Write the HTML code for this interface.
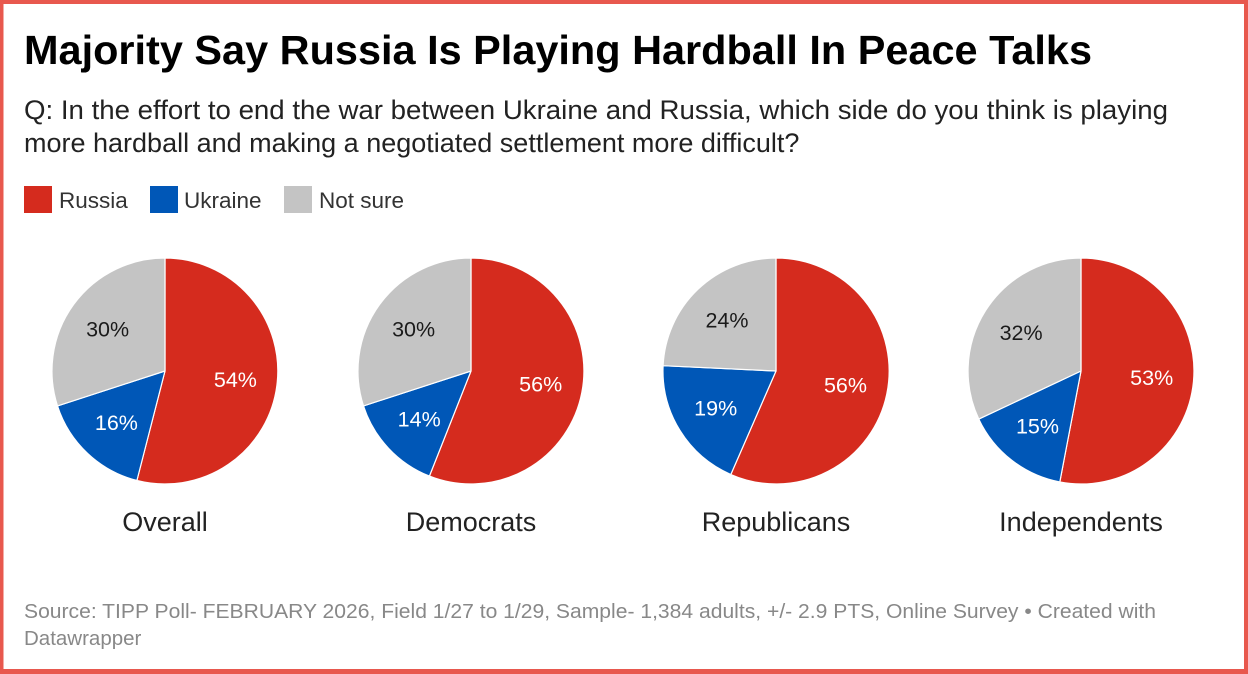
<!DOCTYPE html>
<html>
<head>
<meta charset="utf-8">
<style>
  html, body { margin: 0; padding: 0; background: #fff; }
  svg { display: block; }
  text { font-family: "Liberation Sans", Arial, sans-serif; }
</style>
</head>
<body>
<svg width="1248" height="674" viewBox="0 0 1248 674" xmlns="http://www.w3.org/2000/svg">
  <rect x="0" y="0" width="1248" height="674" fill="#ffffff"/>
  <!-- border -->
  <rect x="0" y="0" width="1248" height="4" fill="#e8584e"/>
  <rect x="0" y="669" width="1248" height="5" fill="#e8584e"/>
  <rect x="0" y="0" width="3.5" height="674" fill="#e8584e"/>
  <rect x="1244" y="0" width="4" height="674" fill="#e8584e"/>

  <!-- title -->
  <text x="24" y="64" font-size="41" font-weight="bold" fill="#000" textLength="1068" lengthAdjust="spacingAndGlyphs">Majority Say Russia Is Playing Hardball In Peace Talks</text>

  <!-- question -->
  <text x="24" y="119" font-size="27" fill="#222" textLength="1144" lengthAdjust="spacingAndGlyphs">Q: In the effort to end the war between Ukraine and Russia, which side do you think is playing</text>
  <text x="24" y="152" font-size="27" fill="#222">more hardball and making a negotiated settlement more difficult?</text>

  <!-- legend -->
  <rect x="24" y="186" width="28" height="27" fill="#d52b1e"/>
  <text x="59" y="208" font-size="22.5" fill="#333">Russia</text>
  <rect x="150" y="186" width="28" height="27" fill="#0057b7"/>
  <text x="184" y="208" font-size="22.5" fill="#333">Ukraine</text>
  <rect x="284" y="186" width="28" height="27" fill="#c4c4c4"/>
  <text x="319" y="208" font-size="22.5" fill="#333">Not sure</text>

  <g stroke="#ffffff" stroke-width="1.2" stroke-linejoin="round">
    <!-- Overall -->
    <path d="M165,371 L165,258 A113,113 0 1 1 136.9,480.5 Z" fill="#d52b1e"/>
    <path d="M165,371 L136.9,480.5 A113,113 0 0 1 57.5,405.9 Z" fill="#0057b7"/>
    <path d="M165,371 L57.5,405.9 A113,113 0 0 1 165,258 Z" fill="#c4c4c4"/>
    <!-- Democrats -->
    <path d="M471,371 L471,258 A113,113 0 1 1 429.4,476.1 Z" fill="#d52b1e"/>
    <path d="M471,371 L429.4,476.1 A113,113 0 0 1 363.5,405.9 Z" fill="#0057b7"/>
    <path d="M471,371 L363.5,405.9 A113,113 0 0 1 471,258 Z" fill="#c4c4c4"/>
    <!-- Republicans -->
    <path d="M776,371 L776,258 A113,113 0 1 1 730.8,474.5 Z" fill="#d52b1e"/>
    <path d="M776,371 L730.8,474.5 A113,113 0 0 1 663.1,365.7 Z" fill="#0057b7"/>
    <path d="M776,371 L663.1,365.7 A113,113 0 0 1 776,258 Z" fill="#c4c4c4"/>
    <!-- Independents -->
    <path d="M1081,371 L1081,258 A113,113 0 1 1 1059.8,482 Z" fill="#d52b1e"/>
    <path d="M1081,371 L1059.8,482 A113,113 0 0 1 978.8,419.1 Z" fill="#0057b7"/>
    <path d="M1081,371 L978.8,419.1 A113,113 0 0 1 1081,258 Z" fill="#c4c4c4"/>
  </g>

  <!-- pie labels -->
  <g font-size="21.5" text-anchor="middle" dominant-baseline="central">
    <text x="235.4" y="380" fill="#fff">54%</text>
    <text x="116.4" y="422.8" fill="#fff">16%</text>
    <text x="107.6" y="329.3" fill="#1a1a1a">30%</text>

    <text x="540.7" y="384.3" fill="#fff">56%</text>
    <text x="419.2" y="419.6" fill="#fff">14%</text>
    <text x="413.6" y="329.3" fill="#1a1a1a">30%</text>

    <text x="845.5" y="385.5" fill="#fff">56%</text>
    <text x="715.7" y="408.4" fill="#fff">19%</text>
    <text x="727" y="320.5" fill="#1a1a1a">24%</text>

    <text x="1151.7" y="378" fill="#fff">53%</text>
    <text x="1037.5" y="426.5" fill="#fff">15%</text>
    <text x="1021.1" y="333" fill="#1a1a1a">32%</text>
  </g>

  <!-- category labels -->
  <g font-size="27" text-anchor="middle" fill="#222">
    <text x="165" y="531">Overall</text>
    <text x="471" y="531">Democrats</text>
    <text x="776" y="531">Republicans</text>
    <text x="1081" y="531">Independents</text>
  </g>

  <!-- footer -->
  <text x="24" y="618" font-size="20.5" fill="#888" textLength="1132" lengthAdjust="spacingAndGlyphs">Source: TIPP Poll- FEBRUARY 2026, Field 1/27 to 1/29, Sample- 1,384 adults, +/- 2.9 PTS, Online Survey • Created with</text>
  <text x="24" y="645" font-size="20.5" fill="#888">Datawrapper</text>
</svg>
</body>
</html>
